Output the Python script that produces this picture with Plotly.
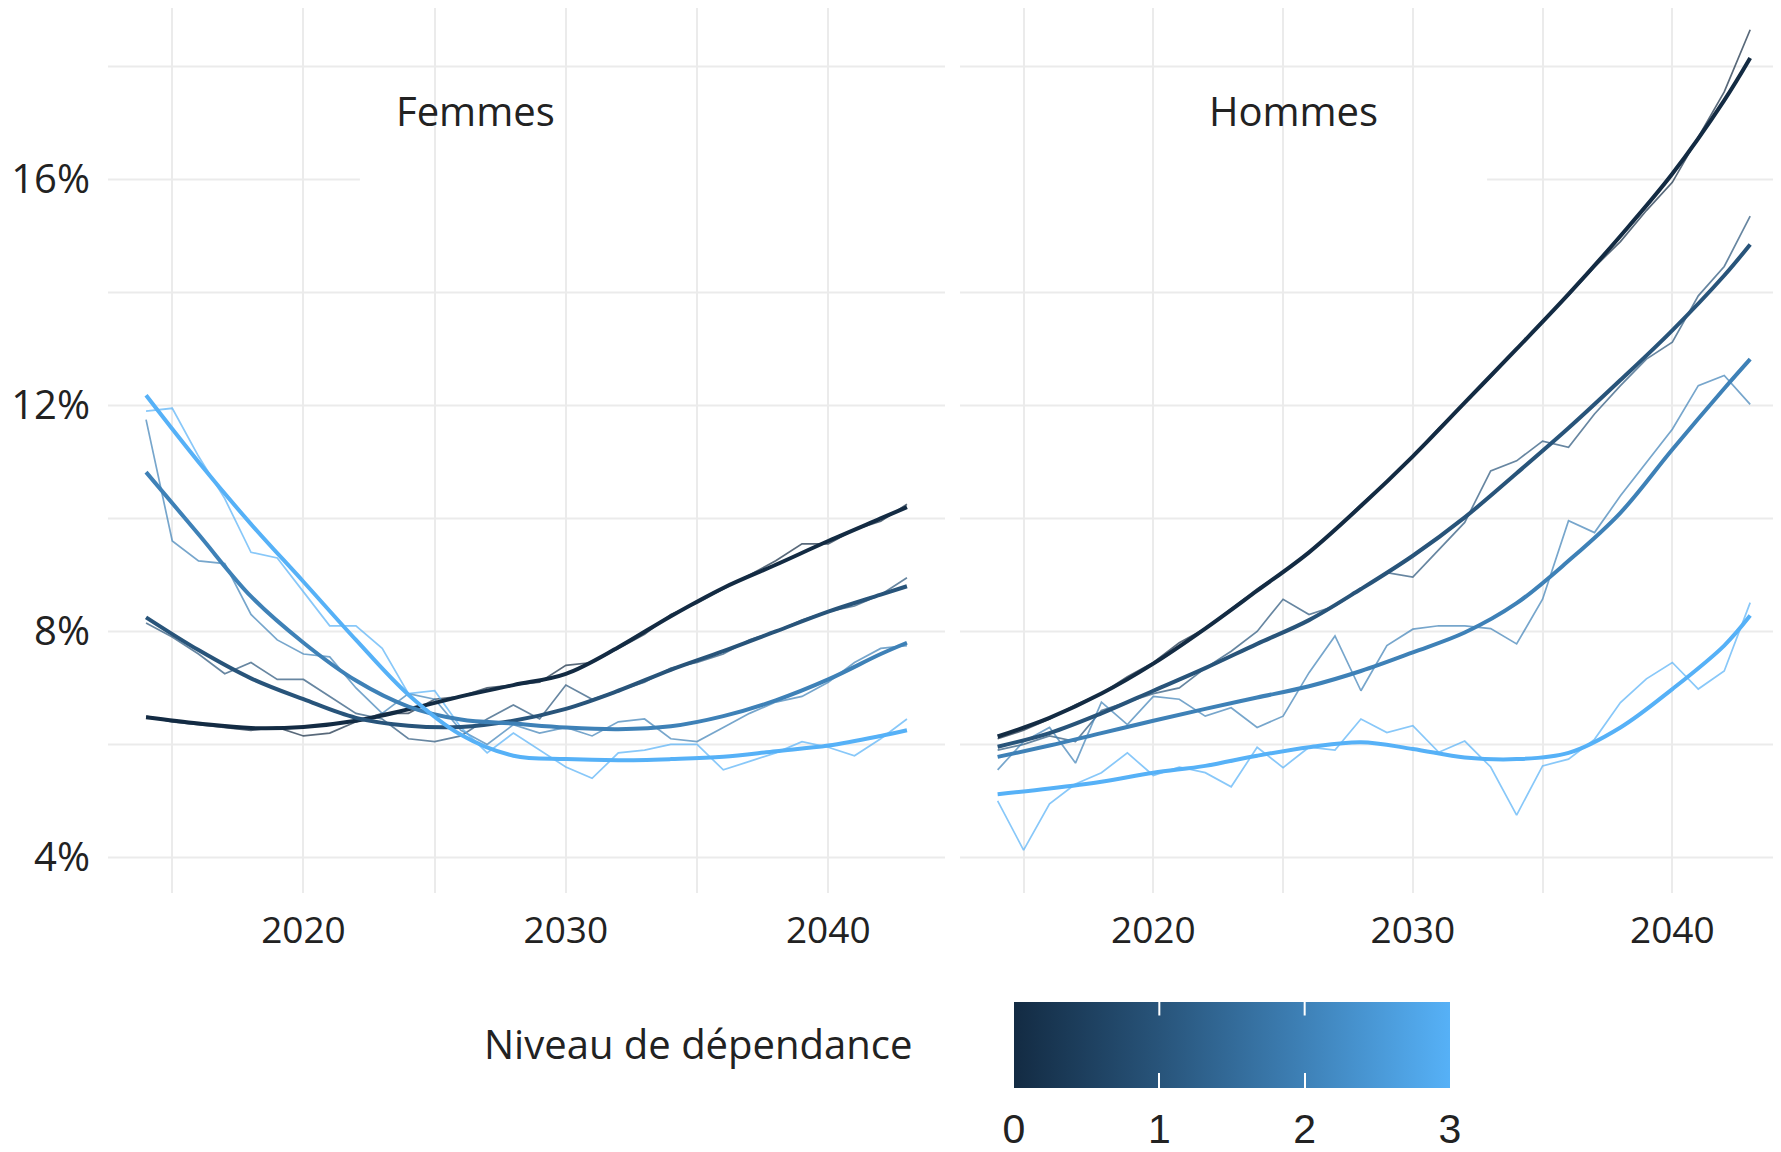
import plotly.graph_objects as go

# ---------------- data ----------------
YEARS = list(range(2014, 2044))
SMOOTH_YEARS = [2014, 2016, 2018, 2020, 2022, 2024, 2026, 2028, 2030, 2032, 2034, 2036, 2038, 2040, 2042, 2043]
LEVELS = [0, 1, 2, 3]
LEVEL_COLORS = ["#132B43", "#28547A", "#3E81B7", "#56B1F7"]
PANELS = ["Femmes", "Hommes"]
X_TICK_VALUES = [2015, 2020, 2025, 2030, 2035, 2040]
X_TICK_LABELS = ["", "2020", "", "2030", "", "2040"]
Y_TICK_VALUES = [4, 8, 12, 16]
Y_TICK_LABELS = ["4%", "8%", "12%", "16%"]
Y_GRID_VALUES = [4, 6, 8, 10, 12, 14, 16, 18]
LEGEND_TITLE = "Niveau de dépendance"

# Femmes, observed (thin lines)
F_RAW_0 = [6.5, 6.4, 6.35, 6.3, 6.25, 6.3, 6.15, 6.2, 6.4, 6.55, 6.55, 6.8, 6.85, 7.0, 7.05,
           7.1, 7.4, 7.45, 7.7, 7.95, 8.3, 8.5, 8.75, 9.0, 9.25, 9.55, 9.55, 9.8, 9.95, 10.25]
F_RAW_1 = [8.15, 7.9, 7.6, 7.25, 7.45, 7.15, 7.15, 6.85, 6.55, 6.45, 6.1, 6.05, 6.15, 6.45, 6.7,
           6.45, 7.05, 6.8, 6.95, 7.1, 7.35, 7.45, 7.6, 7.85, 8.0, 8.2, 8.35, 8.45, 8.65, 8.95]
F_RAW_2 = [11.75, 9.6, 9.25, 9.2, 8.3, 7.85, 7.6, 7.55, 7.0, 6.55, 6.9, 6.8, 6.25, 6.0, 6.35,
           6.2, 6.3, 6.15, 6.4, 6.45, 6.1, 6.05, 6.3, 6.55, 6.75, 6.85, 7.1, 7.45, 7.7, 7.75]
F_RAW_3 = [11.9, 11.95, 11.1, 10.35, 9.4, 9.3, 8.7, 8.1, 8.1, 7.7, 6.9, 6.95, 6.3, 5.85, 6.2,
           5.9, 5.6, 5.4, 5.85, 5.9, 6.0, 6.0, 5.55, 5.7, 5.85, 6.05, 5.95, 5.8, 6.1, 6.45]
# Femmes, smoothed (thick lines)
F_SMOOTH_0 = [6.48, 6.37, 6.29, 6.31, 6.42, 6.62, 6.85, 7.05, 7.25, 7.72, 8.27, 8.77, 9.18, 9.6, 10.0, 10.2]
F_SMOOTH_1 = [8.25, 7.67, 7.17, 6.8, 6.47, 6.33, 6.31, 6.42, 6.63, 6.95, 7.32, 7.65, 8.0, 8.35, 8.65, 8.8]
F_SMOOTH_2 = [10.82, 9.72, 8.62, 7.8, 7.13, 6.67, 6.44, 6.37, 6.3, 6.27, 6.32, 6.5, 6.78, 7.15, 7.6, 7.8]
F_SMOOTH_3 = [12.18, 11.0, 9.9, 8.88, 7.85, 6.88, 6.17, 5.8, 5.74, 5.72, 5.74, 5.78, 5.88, 5.98, 6.15, 6.25]

# Hommes, observed (thin lines)
H_RAW_0 = [6.1, 6.25, 6.45, 6.7, 6.9, 7.2, 7.45, 7.8, 8.05, 8.4, 8.75, 9.05, 9.4, 9.8, 10.25,
           10.65, 11.1, 11.6, 12.05, 12.5, 13.0, 13.5, 13.95, 14.45, 14.9, 15.45, 15.95, 16.75, 17.55, 18.65]
H_RAW_1 = [5.9, 6.0, 6.15, 6.05, 6.6, 6.75, 6.9, 7.0, 7.35, 7.65, 8.0, 8.57, 8.3, 8.45, 8.75,
           9.04, 8.96, 9.45, 9.93, 10.84, 11.02, 11.37, 11.26, 11.85, 12.35, 12.82, 13.12, 13.94, 14.46, 15.35]
H_RAW_2 = [5.55, 6.05, 6.3, 5.67, 6.75, 6.35, 6.85, 6.8, 6.5, 6.65, 6.3, 6.5, 7.27, 7.92, 6.95,
           7.75, 8.04, 8.1, 8.1, 8.05, 7.78, 8.57, 9.96, 9.75, 10.4, 11.0, 11.58, 12.35, 12.53, 12.02]
H_RAW_3 = [5.0, 4.13, 4.95, 5.3, 5.5, 5.85, 5.45, 5.6, 5.5, 5.25, 5.95, 5.59, 5.95, 5.9, 6.45,
           6.21, 6.33, 5.86, 6.06, 5.6, 4.75, 5.62, 5.74, 6.09, 6.74, 7.16, 7.45, 6.98, 7.3, 8.51]
# Hommes, smoothed (thick lines)
H_SMOOTH_0 = [6.14, 6.47, 6.9, 7.43, 8.05, 8.72, 9.4, 10.22, 11.1, 12.05, 13.0, 13.97, 15.0, 16.1, 17.4, 18.15]
H_SMOOTH_1 = [5.96, 6.2, 6.55, 6.95, 7.35, 7.78, 8.2, 8.75, 9.34, 10.02, 10.8, 11.6, 12.45, 13.33, 14.3, 14.85]
H_SMOOTH_2 = [5.78, 5.98, 6.2, 6.42, 6.63, 6.83, 7.03, 7.3, 7.63, 7.98, 8.5, 9.25, 10.1, 11.22, 12.3, 12.82]
H_SMOOTH_3 = [5.12, 5.22, 5.34, 5.5, 5.62, 5.8, 5.95, 6.04, 5.92, 5.77, 5.74, 5.85, 6.3, 6.98, 7.75, 8.28]

RAW = {"Femmes": [F_RAW_0, F_RAW_1, F_RAW_2, F_RAW_3],
       "Hommes": [H_RAW_0, H_RAW_1, H_RAW_2, H_RAW_3]}
SMOOTH = {"Femmes": [F_SMOOTH_0, F_SMOOTH_1, F_SMOOTH_2, F_SMOOTH_3],
          "Hommes": [H_SMOOTH_0, H_SMOOTH_1, H_SMOOTH_2, H_SMOOTH_3]}

# ---------------- layout constants ----------------
PAGE_W, PAGE_H = 1781, 1152
BODY = 8                       # default page margin around the plot div
W, H = PAGE_W - BODY, PAGE_H - BODY


def fx(px):  # page x pixel -> paper fraction
    return (px - BODY) / W


def fy(py):  # page y pixel -> paper fraction
    return (PAGE_H - py) / H


FONT = "Open Sans"
TXT = "#222222"
GRID = "#EBEBEB"
AXES = {"Femmes": ("x", "y"), "Hommes": ("x2", "y2")}
X_DOMAINS = {"Femmes": [fx(108), fx(945)], "Hommes": [fx(960), 1.0]}
X_RANGES = {"Femmes": [2012.55, 2044.45], "Hommes": [2012.55, 2012.55 + (PAGE_W - 960) / 25.95]}
Y_DOMAIN = [fy(893), 1.0]
Y_RANGE = [3.37, 4 + (857.5 - 8) / 56.5]

fig = go.Figure()

for panel in PANELS:
    xa, ya = AXES[panel]
    for lvl in LEVELS:
        fig.add_trace(go.Scatter(
            x=YEARS, y=RAW[panel][lvl], mode="lines",
            line=dict(color=LEVEL_COLORS[lvl], width=1.7),
            opacity=0.7, xaxis=xa, yaxis=ya, showlegend=False, hoverinfo="skip"))
    for lvl in LEVELS:
        fig.add_trace(go.Scatter(
            x=SMOOTH_YEARS, y=SMOOTH[panel][lvl], mode="lines",
            line=dict(color=LEVEL_COLORS[lvl], width=4, shape="spline", smoothing=1.0),
            xaxis=xa, yaxis=ya, showlegend=False, hoverinfo="skip"))

# colour bar legend (two stacked copies: labels, and white ticks on the bottom edge)
CB_LEFT, CB_LEN, CB_TOP, CB_THICK, CB_TICK = 1014, 436, 1002, 86, 15
colorscale = [[lvl / 3, c] for lvl, c in zip(LEVELS, LEVEL_COLORS)]
base_cb = dict(orientation="h", x=fx(CB_LEFT + CB_LEN / 2), xanchor="center",
               y=fy(CB_TOP), yanchor="top",
               len=CB_LEN, lenmode="pixels", thickness=CB_THICK, thicknessmode="pixels",
               outlinewidth=0, xpad=0, ypad=0, tickvals=LEVELS,
               ticktext=[str(l) for l in LEVELS])
cb_variants = [
    dict(ticks="outside", ticklen=6, tickcolor="white", tickwidth=1,
         tickfont=dict(family="Liberation Sans", size=41, color=TXT)),
    dict(ticks="inside", ticklen=CB_TICK, tickcolor="white", tickwidth=2, showticklabels=False),
]
for variant in cb_variants:
    fig.add_trace(go.Scatter(
        x=[None, None], y=[None, None], mode="markers", showlegend=False, hoverinfo="skip",
        marker=dict(color=[0, 3], cmin=0, cmax=3, colorscale=colorscale, showscale=True,
                    colorbar=dict(**base_cb, **variant))))

shapes = []
# horizontal grid lines (part of the 16% line is hidden in the reference)
gaps = {"Femmes": (0.301, 1.0), "Hommes": (0.0, 0.642)}
for panel in PANELS:
    xa, ya = AXES[panel]
    for v in Y_GRID_VALUES:
        segs = [(0, 1)]
        if v == 16:
            g0, g1 = gaps[panel]
            segs = [s for s in [(0, g0), (g1, 1)] if s[1] > s[0]]
        for a, b in segs:
            shapes.append(dict(type="line", xref=f"{xa} domain", yref=ya, x0=a, x1=b, y0=v, y1=v,
                               line=dict(color=GRID, width=2), layer="below"))

annotations = [
    dict(text="Femmes", x=fx(475), y=fy(110), xref="paper", yref="paper",
         xanchor="center", yanchor="middle",
         showarrow=False, font=dict(family=FONT, size=40, color=TXT)),
    dict(text="Hommes", x=fx(1293), y=fy(110), xref="paper", yref="paper",
         xanchor="center", yanchor="middle",
         showarrow=False, font=dict(family=FONT, size=40, color=TXT)),
    dict(text=LEGEND_TITLE, x=fx(914), y=fy(1043), xref="paper", yref="paper",
         xanchor="right", yanchor="middle",
         showarrow=False, font=dict(family=FONT, size=40, color=TXT)),
]
# white tick marks on the upper edge of the colour bar (drawn as arrow-only annotations)
for lvl in LEVELS[1:-1]:
    px = CB_LEFT + CB_LEN * lvl / 3
    annotations.append(dict(text="", x=fx(px), y=fy(CB_TOP), xref="paper", yref="paper",
                            showarrow=True, arrowhead=0, arrowwidth=2, arrowcolor="white",
                            ax=0, ay=CB_TICK, standoff=0, startstandoff=0))

common_x = dict(tickvals=X_TICK_VALUES, ticktext=X_TICK_LABELS, showgrid=True, gridcolor=GRID,
                gridwidth=2, zeroline=False, showline=False, ticks="",
                tickfont=dict(family=FONT, size=37, color=TXT), ticklabelstandoff=12)
common_y = dict(range=Y_RANGE, domain=Y_DOMAIN, tickvals=Y_TICK_VALUES, ticktext=Y_TICK_LABELS,
                showgrid=False, zeroline=False, showline=False, ticks="",
                tickfont=dict(family=FONT, size=40, color=TXT))

fig.update_layout(
    width=W, height=H, margin=dict(l=0, r=0, t=0, b=0, autoexpand=False),
    paper_bgcolor="white", plot_bgcolor="white", template="none",
    font=dict(family=FONT, color=TXT),
    xaxis=dict(domain=X_DOMAINS["Femmes"], range=X_RANGES["Femmes"], anchor="y", **common_x),
    xaxis2=dict(domain=X_DOMAINS["Hommes"], range=X_RANGES["Hommes"], anchor="y2", **common_x),
    yaxis=dict(anchor="x", ticklabelstandoff=17, **common_y),
    yaxis2=dict(anchor="x2", matches="y", showticklabels=False, **common_y),
    shapes=shapes, annotations=annotations, showlegend=False,
)

fig.write_html("out.html")
